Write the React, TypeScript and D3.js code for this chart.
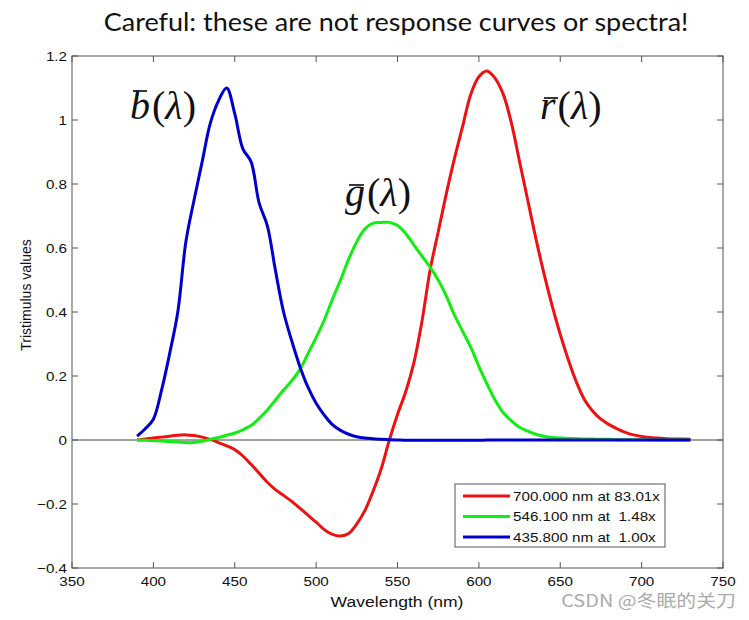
import React from "react";
import * as d3 from "d3";

const wavelengths = [390,395,400,405,410,415,420,425,430,435,440,445,450,455,460,465,470,475,480,485,490,495,500,505,510,515,520,525,530,535,540,545,550,555,560,565,570,575,580,585,590,595,600,605,610,615,620,625,630,635,640,645,650,655,660,665,670,675,680,685,690,695,700,705,710,715,720,725,730];

const redValues = [0.000,0.003,0.006,0.009,0.012,0.015,0.016,0.014,0.009,0.002,-0.008,-0.018,-0.030,-0.050,-0.076,-0.104,-0.132,-0.155,-0.173,-0.192,-0.213,-0.235,-0.257,-0.280,-0.295,-0.300,-0.292,-0.262,-0.220,-0.160,-0.090,0.000,0.080,0.150,0.240,0.370,0.530,0.650,0.770,0.880,0.980,1.080,1.135,1.153,1.130,1.080,0.990,0.870,0.750,0.630,0.520,0.420,0.330,0.250,0.180,0.125,0.090,0.065,0.048,0.035,0.024,0.016,0.011,0.008,0.006,0.004,0.003,0.003,0.002];

const greenValues = [0.000,-0.001,-0.002,-0.003,-0.005,-0.006,-0.008,-0.008,-0.004,0.002,0.008,0.015,0.022,0.032,0.045,0.068,0.094,0.125,0.156,0.185,0.220,0.270,0.320,0.375,0.440,0.500,0.565,0.620,0.660,0.678,0.680,0.680,0.670,0.645,0.610,0.575,0.540,0.500,0.450,0.390,0.340,0.290,0.230,0.175,0.125,0.085,0.060,0.040,0.028,0.018,0.012,0.008,0.006,0.005,0.004,0.003,0.003,0.002,0.002,0.001,0.001,0.001,0.001,0.000,0.000,0.000,0.000,0.000,0.000];

const blueValues = [0.012,0.035,0.065,0.155,0.270,0.400,0.620,0.750,0.870,0.990,1.060,1.100,1.020,0.910,0.870,0.740,0.670,0.530,0.400,0.310,0.230,0.165,0.115,0.078,0.048,0.030,0.018,0.010,0.006,0.004,0.002,0.001,0.000,-0.001,-0.001,-0.001,-0.001,-0.001,-0.001,-0.001,-0.001,-0.001,-0.001,0.000,0.000,0.000,0.000,0.000,0.000,0.000,0.000,0.000,0.000,0.000,0.000,0.000,0.000,0.000,0.000,0.000,0.000,0.000,0.000,0.000,0.000,0.000,0.000,0.000,0.000];

const xTicks = [350,400,450,500,550,600,650,700,750];
const yTicks = [-0.4,-0.2,0,0.2,0.4,0.6,0.8,1,1.2];
const legendLabels = ["700.000 nm at 83.01x", "546.100 nm at  1.48x", "435.800 nm at  1.00x"];
const seriesColors = ["#ee1111", "#11ee11", "#0000cc"];

const W = 749, H = 620;
const left = 72, right = 723, top = 56, bottom = 568;
const SX = 1.17; // horizontal stretch of the source image's text

export default function App() {
  const x = d3.scaleLinear().domain([350, 750]).range([left, right]);
  const y = d3.scaleLinear().domain([-0.4, 1.2]).range([bottom, top]);
  const line = d3.line<number>().x((_, i) => x(wavelengths[i])).y((d) => y(d)).curve(d3.curveCatmullRom.alpha(0.5));
  const series = [redValues, greenValues, blueValues];
  const tickLen = 6;
  const axisFont = "Arial, Liberation Sans, sans-serif";
  const mathFont = "Liberation Serif, DejaVu Serif, serif";

  const mathLabel = (lx: number, ly: number, letter: string, barOffsetX: number, barW: number, barY: number) => (
    <g transform={`translate(${lx},${ly})`}>
      <text x={0} y={0} fontFamily={mathFont} fontSize={40} fill="#111">
        <tspan fontStyle="italic">{letter}</tspan>
        <tspan dx={2}>(</tspan>
        <tspan fontStyle="italic">λ</tspan>
        <tspan>)</tspan>
      </text>
      <line x1={barOffsetX} x2={barOffsetX + barW} y1={barY} y2={barY} stroke="#222" strokeWidth={1.8} />
    </g>
  );

  const stretched = (tx: number, ty: number, anchor: string, size: number, content: string, key?: string, fill = "#111", family = axisFont) => (
    <text key={key} transform={`translate(${tx},${ty}) scale(${SX},1)`} x={0} y={0} textAnchor={anchor} fontFamily={family} fontSize={size} fill={fill} style={{ whiteSpace: "pre" }}>{content}</text>
  );

  return (
    <svg width={W} height={H} style={{ position: "absolute", left: 0, top: 0, background: "#fff" }}>
      <rect x={0} y={0} width={W} height={H} fill="#fff" />
      <text transform={`translate(396,31) scale(1.08,1)`} textAnchor="middle" fontFamily="Lato, Open Sans, sans-serif" fontSize={25} fill="#111">
        Careful: these are not response curves or spectra!
      </text>

      <rect x={left} y={top} width={right - left} height={bottom - top} fill="none" stroke="#555" strokeWidth={1} />
      <line x1={left} x2={right} y1={y(0)} y2={y(0)} stroke="#444" strokeWidth={1} />

      {xTicks.map((t) => (
        <g key={"xt" + t}>
          <line x1={x(t)} x2={x(t)} y1={bottom} y2={bottom - tickLen} stroke="#555" />
          <line x1={x(t)} x2={x(t)} y1={top} y2={top + tickLen} stroke="#555" />
          {stretched(x(t), bottom + 18, "middle", 13, String(t))}
        </g>
      ))}
      {yTicks.map((t) => (
        <g key={"yt" + t}>
          <line x1={left} x2={left + tickLen} y1={y(t)} y2={y(t)} stroke="#555" />
          <line x1={right} x2={right - tickLen} y1={y(t)} y2={y(t)} stroke="#555" />
          {stretched(left - 5, y(t) + 4.5, "end", 13, d3.format("~g")(t))}
        </g>
      ))}

      {stretched(397, 607, "middle", 15, "Wavelength (nm)")}
      <text transform={`translate(31,295) rotate(-90)`} textAnchor="middle" fontFamily={axisFont} fontSize={14} fill="#111">Tristimulus values</text>

      {series.map((s, i) => (
        <path key={"s" + i} d={line(s) || ""} fill="none" stroke={seriesColors[i]} strokeWidth={3} strokeLinejoin="round" />
      ))}

      {mathLabel(130, 119, "b", 3, 14, -28)}
      {mathLabel(345, 206, "g", 4, 15, -21)}
      {mathLabel(540, 119, "r", 4, 14, -21)}

      <rect x={455} y={484} width={210} height={63} fill="#fff" stroke="#555" strokeWidth={1} />
      {legendLabels.map((lab, i) => (
        <g key={"lg" + i}>
          <line x1={463} x2={510} y1={496 + i * 20.5} y2={496 + i * 20.5} stroke={seriesColors[i]} strokeWidth={3} />
          {stretched(513, 500.5 + i * 20.5, "start", 13, lab)}
        </g>
      ))}

      {stretched(736, 607, "end", 17, "CSDN @冬眠的关刀", undefined, "#aaa", "Noto Sans CJK SC, sans-serif")}
    </svg>
  );
}
